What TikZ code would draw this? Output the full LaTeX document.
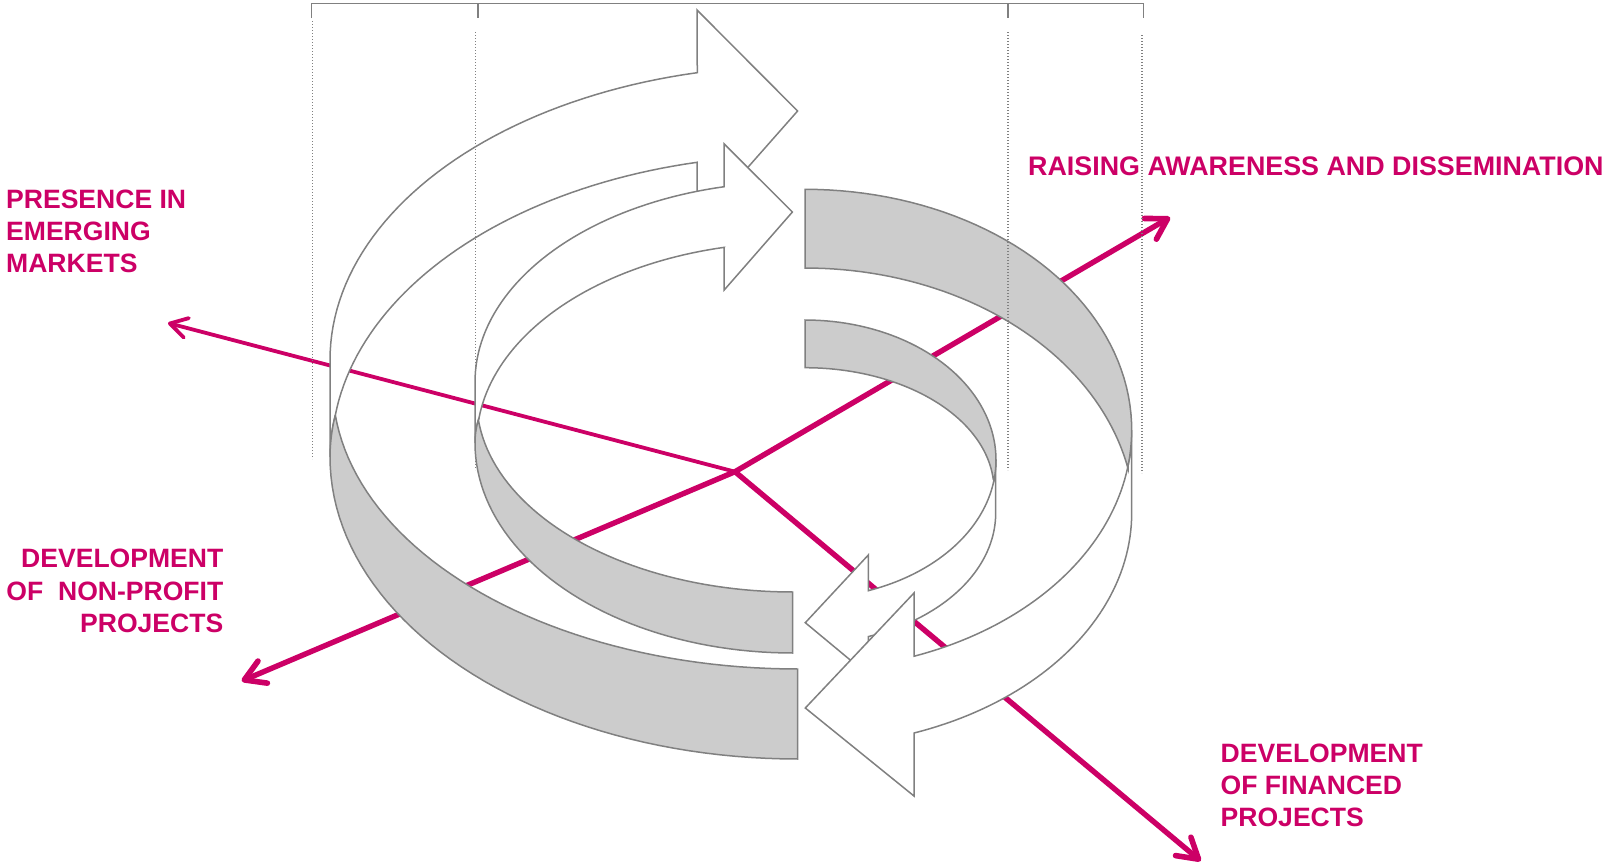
\documentclass[tikz,border=0pt]{standalone}
\usepackage{fontspec}
\setmainfont{Liberation Sans}
\usetikzlibrary{arrows.meta}
\definecolor{mag}{RGB}{204,0,102}
\definecolor{gl}{RGB}{128,128,128}
\definecolor{gf}{RGB}{204,204,204}
\tikzset{
  wband/.style={draw=gl,fill=white,line width=1.5pt,line join=miter},
  gband/.style={draw=gl,fill=gf,line width=1.5pt,line join=miter},
  thick axis/.style={draw=mag,line width=5.4pt,-{Straight Barb[length=20pt,width=24pt,line width=5.6pt,round]}},
  thin axis/.style={draw=mag,line width=3.8pt,-{Straight Barb[length=17pt,width=20pt,line width=3.8pt,round]}},
  dots/.style={draw=gl,line width=1.4pt,dash pattern=on 1.4pt off 1.6pt},
  brk/.style={draw=gl,line width=1.5pt},
  lbl/.style={text=mag,font=\bfseries\fontsize{26.55}{32.2}\selectfont,inner sep=0pt},
  s/.style={samples=48},
}
\begin{document}
\begin{tikzpicture}[x=1pt,y=-1pt]
\useasboundingbox (0,0) rectangle (1604,862);
\coordinate (c) at (735,471.7);
\coordinate (ul) at (168,323);
\coordinate (ur) at (1170,217.3);
\coordinate (ll) at (241.7,681);
\coordinate (lr) at (1200.7,861);
\draw[thin axis] (c) -- (ul);
\draw[thick axis] (c) -- (ur);
\draw[thick axis] (c) -- (ll);
\draw[thick axis] (c) -- (lr);
% white arrows
\path[wband] (330,457) -- (330,359.8) -- plot[s,domain=-180:-102.4] ({797.7+467.7*cos(\x)},{359.8+294*sin(\x)}) -- (697,10) -- (797.6,111) -- (697,225) -- (697,162.3) -- plot[s,domain=-102.5:-173] ({797.7+466*cos(\x)},{452+296.7*sin(\x)}) .. controls (331.5,430) and (330,445) .. (330,457) -- cycle;
\path[wband] (475,443) -- (475,382) -- plot[s,domain=-180:-102.45] ({792.7+317.7*cos(\x)},{382+200*sin(\x)}) -- (724.2,144) -- (792.4,212) -- (724.2,290) -- (724.2,247.7) -- plot[s,domain=-102.5:-173] ({792.7+316*cos(\x)},{442+199.4*sin(\x)}) .. controls (476,427) and (475,435) .. (475,443) -- cycle;
\path[wband] (995.7,460) -- (995.7,513) -- plot[s,domain=0:70.6] ({805+190.7*cos(\x)},{513+131*sin(\x)}) -- (868.3,675) -- (805.3,622.7) -- (868.3,555) -- (868.3,590.7) -- plot[s,domain=70.5:0] ({805+191*cos(\x)},{460+138.5*sin(\x)}) -- cycle;
\path[wband] (1131.7,430) -- (1131.7,513) -- plot[s,domain=0:70.5] ({805+326.7*cos(\x)},{513+233.4*sin(\x)}) -- (914,796) -- (805.3,708) -- (914,593) -- (914,655) -- plot[s,domain=70.5:0] ({805+326.7*cos(\x)},{430+240*sin(\x)}) -- cycle;
% grey bands
\path[gband] (335.3,415) .. controls (331.5,430) and (330,445) .. (330,457) -- plot[s,domain=180:90] ({797.7+467.7*cos(\x)},{457+302*sin(\x)}) -- (797.7,669) -- plot[s,domain=90:174] ({797.7+465*cos(\x)},{385+284*sin(\x)}) -- cycle;
\path[gband] (479,418) .. controls (476,427) and (475,435) .. (475,443) -- plot[s,domain=180:90] ({792.7+317.7*cos(\x)},{443+210*sin(\x)}) -- (792.7,592) -- plot[s,domain=90:174] ({792.7+316*cos(\x)},{400+192*sin(\x)}) -- cycle;
\path[gband] (805,189.3) -- plot[s,domain=-90:8.6] ({805+326.7*cos(\x)},{430+240.7*sin(\x)}) -- plot[s,domain=-11.8:-90] ({805+330*cos(\x)},{520+252*sin(\x)}) -- cycle;
\path[gband] (805,320) -- plot[s,domain=-90:8] ({805+191*cos(\x)},{460+140*sin(\x)}) -- plot[s,domain=-5:-90] ({805+189*cos(\x)},{490+122.3*sin(\x)}) -- cycle;
% bracket
\coordinate (b1) at (311.4,18);
\coordinate (b1t) at (311.4,3.4);
\coordinate (b2) at (478,18);
\coordinate (b2t) at (478,3.4);
\coordinate (b3) at (1007.7,18);
\coordinate (b3t) at (1007.7,3.4);
\coordinate (b4) at (1143.7,18);
\coordinate (b4t) at (1143.7,3.4);
\draw[brk] (b1) -- (b1t) -- (b2t) -- (b2);
\draw[brk,line width=1.8pt] (b2t) -- (b3t) -- (b3);
\draw[brk] (b3t) -- (b4t) -- (b4);
% dotted guides
\coordinate (d1a) at (312.7,21);
\coordinate (d1b) at (312.7,459);
\coordinate (d2a) at (475.6,32);
\coordinate (d2b) at (475.6,470);
\coordinate (d3a) at (1008,32);
\coordinate (d3b) at (1008,470);
\coordinate (d4a) at (1142,35);
\coordinate (d4b) at (1142,473);
\draw[dots] (d1a) -- (d1b);
\draw[dots] (d2a) -- (d2b);
\draw[dots] (d3a) -- (d3b);
\draw[dots] (d4a) -- (d4b);
% labels
\node[lbl,anchor=west,align=left] (t1) at (6,231.5) {PRESENCE IN\\EMERGING\\MARKETS};
\node[lbl,anchor=east,align=right] (t2) at (223.5,591) {DEVELOPMENT\\OF\ \ NON-PROFIT\\PROJECTS};
\node[lbl,anchor=west,align=left] (t3) at (1220.5,785.2) {DEVELOPMENT\\OF FINANCED\\PROJECTS};
\node[lbl,anchor=west,font=\bfseries\fontsize{26.85}{32.2}\selectfont] (t4) at (1028,166.2) {RAISING AWARENESS AND DISSEMINATION};
\end{tikzpicture}
\end{document}
